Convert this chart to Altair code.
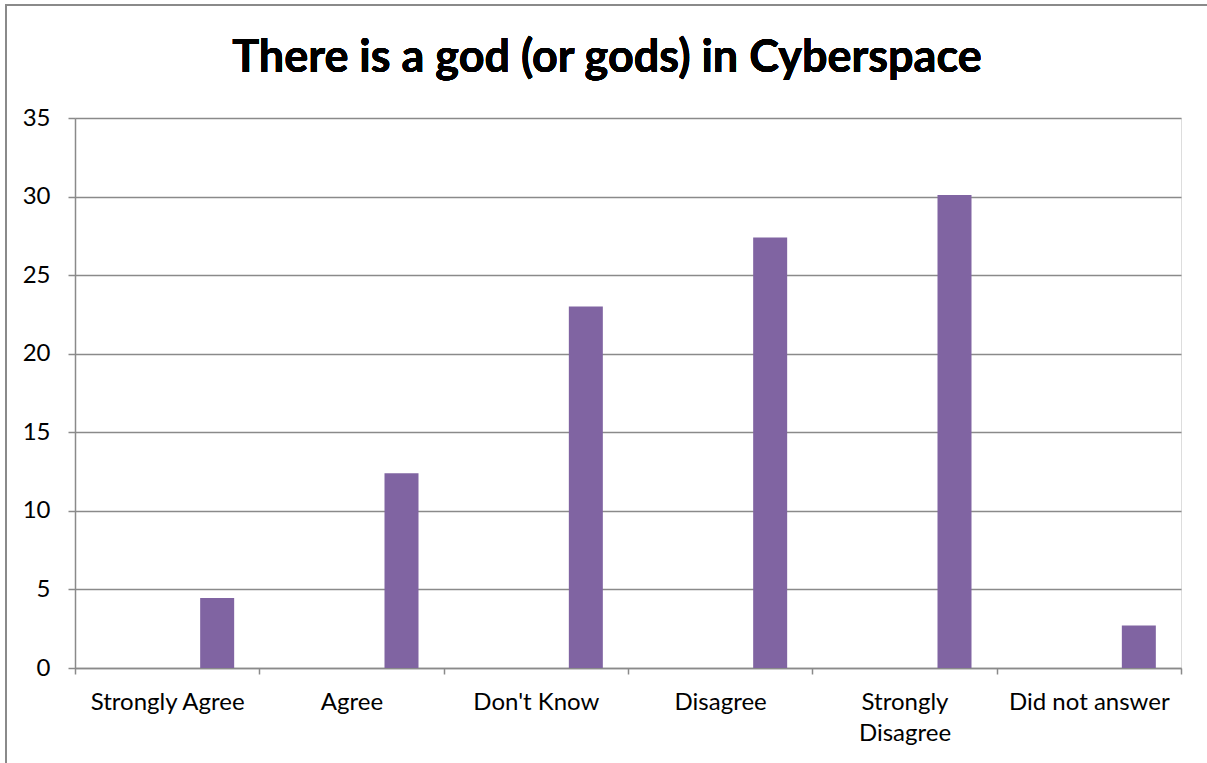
import altair as alt
import pandas as pd

# Survey responses to "There is a god (or gods) in Cyberspace"
categories = ["Strongly Agree", "Agree", "Don't Know", "Disagree",
              "Strongly Disagree", "Did not answer"]
values = [4.45, 12.4, 23.0, 27.4, 30.1, 2.7]
y_ticks = [0, 5, 10, 15, 20, 25, 30, 35]
title_text = "There is a god (or gods) in Cyberspace"

df = pd.DataFrame({"response": categories, "percent": values})

FONT = "Lato"
GRAY = "#8a8a8a"
PURPLE = "#8064A2"

PLOT_W, PLOT_H = 1106, 550

bars = alt.Chart(df).mark_bar(color=PURPLE, width=34, xOffset=50).encode(
    x=alt.X(
        "response:N",
        sort=categories,
        scale=alt.Scale(paddingInner=0, paddingOuter=0),
        axis=alt.Axis(
            title=None, labelAngle=0, tickBand="extent", ticks=True,
            tickSize=6, tickColor=GRAY, tickWidth=1.5,
            domainColor=GRAY, domainWidth=1.5,
            labelFont=FONT, labelFontSize=24, labelColor="black",
            labelPadding=16, labelLimit=0, labelOverlap=False,
            labelLineHeight=31,
            labelExpr="datum.value == 'Strongly Disagree' ? ['Strongly', 'Disagree'] : datum.value",
            grid=False,
        ),
    ),
    y=alt.Y(
        "percent:Q",
        scale=alt.Scale(domain=[0, 35], nice=False),
        axis=alt.Axis(
            title=None, values=y_ticks, tickSize=7, tickColor=GRAY, tickWidth=1.5,
            domainColor=GRAY, domainWidth=1.5,
            grid=True, gridColor=GRAY, gridWidth=1.5,
            labelFont=FONT, labelFontSize=24, labelColor="black",
            labelPadding=18,
        ),
    ),
)

# outer frame of the chart
frame = alt.Chart(df).mark_rect(filled=False, stroke=GRAY, strokeWidth=1.5).encode(
    x=alt.value(-69), x2=alt.value(PLOT_W + 31),
    y=alt.value(-113), y2=alt.value(PLOT_H + 120),
)

# chart heading, centred on the whole frame
heading = alt.Chart(df).mark_text(
    text=title_text, font=FONT, fontSize=45, fontWeight="bold",
    color="black", align="center", baseline="alphabetic",
).encode(x=alt.value(532), y=alt.value(-46))

chart = alt.layer(frame, bars, heading).properties(
    width=PLOT_W,
    height=PLOT_H,
    autosize=alt.AutoSizeParams(type="none"),
    padding={"left": 75, "top": 118, "right": 26, "bottom": 95},
).configure_view(stroke=None).configure(background="white")

chart.save("out.html", embed_options={"renderer": "svg", "actions": False})
